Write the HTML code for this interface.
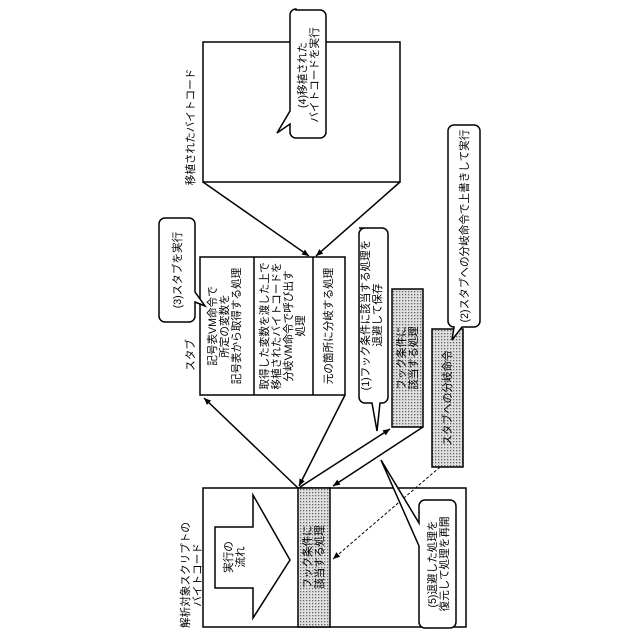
<!DOCTYPE html>
<html><head><meta charset="utf-8"><style>
html,body{margin:0;padding:0;background:#fff;}
svg{display:block;font-family:"Liberation Sans","Noto Sans CJK JP",sans-serif;}
text{font-size:10.6px;fill:#000;}
</style></head><body>
<svg width="640" height="640" viewBox="0 0 640 640" xmlns="http://www.w3.org/2000/svg">
<defs>
<pattern id="dots" width="3" height="3" patternUnits="userSpaceOnUse">
<rect width="3" height="3" fill="#e0e0e0"/><rect width="1.3" height="1.3" fill="#666"/>
</pattern>
<marker id="ah" markerWidth="8" markerHeight="8" refX="7" refY="4" orient="auto" markerUnits="userSpaceOnUse">
<path d="M0,1 L7,4 L0,7 z" fill="#000"/>
</marker>
</defs>
<g stroke="#000" stroke-width="1.5" fill="none">
<rect x="203" y="42" width="197" height="140" fill="#fff"/>
<line x1="203" y1="182" x2="309" y2="256" marker-end="url(#ah)"/>
<line x1="400" y1="182" x2="316" y2="256" marker-end="url(#ah)"/>
<rect x="200" y="257" width="145" height="138" fill="#fff"/>
<line x1="254" y1="257" x2="254" y2="395"/>
<line x1="313" y1="257" x2="313" y2="395"/>
<rect x="203" y="488" width="263" height="139" fill="#fff"/>
<rect x="298" y="488" width="32" height="139" fill="url(#dots)"/>
<polygon points="215,527 253,527 253,495 290,560 253,618 253,588 215,588" fill="#fff"/>
<rect x="392" y="289" width="31" height="138" fill="url(#dots)"/>
<rect x="432" y="329" width="31" height="138" fill="url(#dots)"/>
<line x1="298" y1="488" x2="204" y2="398" marker-end="url(#ah)"/>
<line x1="345" y1="395" x2="299" y2="486" marker-end="url(#ah)"/>
<line x1="300" y1="487" x2="390" y2="429" marker-end="url(#ah)"/>
<line x1="423" y1="427" x2="333" y2="486" marker-end="url(#ah)"/>
<line x1="440" y1="467" x2="333" y2="559" stroke-dasharray="3,2" stroke-width="1" marker-end="url(#ah)"/>
<path d="M296,10 h24 a6,6 0 0 1 6,6 v116 a6,6 0 0 1 -6,6 h-24 a6,6 0 0 1 -6,-6 v-8 l-13,9 l13,-22 v-96 a6,6 0 0 1 6,-6 z" fill="#fff"/>
<path d="M165,218 h24 a6,6 0 0 1 6,6 v68 l10,14 l-10,-4 v14 a6,6 0 0 1 -6,6 h-24 a6,6 0 0 1 -6,-6 v-92 a6,6 0 0 1 6,-6 z" fill="#fff"/>
<path d="M359,228 h23 a6,6 0 0 1 6,6 v163 a6,6 0 0 1 -6,6 h-2 l-3,28 l-5,-28 h-7 a6,6 0 0 1 -6,-6 v-163 a6,6 0 0 1 6,-6 z" fill="#fff"/>
<path d="M454,125 h20 a6,6 0 0 1 6,6 v190 a6,6 0 0 1 -6,6 h-12 l-10,13 l2,-13 h0 a6,6 0 0 1 -6,-6 v-190 a6,6 0 0 1 6,-6 z" fill="#fff"/>
<path d="M425,500 h25 a6,6 0 0 1 6,6 v116 a6,6 0 0 1 -6,6 h-25 a6,6 0 0 1 -6,-6 v-76 l-38,-86 l38,63 v-17 a6,6 0 0 1 6,-6 z" fill="#fff"/>
</g>
<g text-anchor="middle">
<text transform="translate(194,127) rotate(-90)">移植されたバイトコード</text>
<text transform="translate(306,75) rotate(-90)">(4)移植された</text>
<text transform="translate(318,75) rotate(-90)">バイトコードを実行</text>
<text transform="translate(181,270) rotate(-90)">(3)スタブを実行</text>
<text transform="translate(194,355) rotate(-90)">スタブ</text>
<text transform="translate(216,326) rotate(-90)">記号表VM命令で</text>
<text transform="translate(228,326) rotate(-90)">所定の変数を</text>
<text transform="translate(240,326) rotate(-90)">記号表から取得する処理</text>
<text transform="translate(268,326) rotate(-90)">取得した変数を渡した上で</text>
<text transform="translate(280,326) rotate(-90)">移植されたバイトコードを</text>
<text transform="translate(292,326) rotate(-90)">分岐VM命令で呼び出す</text>
<text transform="translate(304,326) rotate(-90)">処理</text>
<text transform="translate(332,326) rotate(-90)">元の箇所に分岐する処理</text>
<text transform="translate(369,315) rotate(-90)">(1)フック条件に該当する処理を</text>
<text transform="translate(381,315) rotate(-90)">退避して保存</text>
<text transform="translate(405,358) rotate(-90)">フック条件に</text>
<text transform="translate(417,358) rotate(-90)">該当する処理</text>
<text transform="translate(468,226) rotate(-90)">(2)スタブへの分岐命令で上書きして実行</text>
<text transform="translate(451,398) rotate(-90)">スタブへの分岐命令</text>
<text transform="translate(232,557) rotate(-90)">実行の</text>
<text transform="translate(244,557) rotate(-90)">流れ</text>
<text transform="translate(311,557) rotate(-90)">フック条件に</text>
<text transform="translate(323,557) rotate(-90)">該当する処理</text>
<text transform="translate(436,564) rotate(-90)">(5)退避した処理を</text>
<text transform="translate(448,564) rotate(-90)">復元して処理を再開</text>
<text transform="translate(189,575) rotate(-90)">解析対象スクリプトの</text>
<text transform="translate(201,575) rotate(-90)">バイトコード</text>
</g>
</svg>
</body></html>
